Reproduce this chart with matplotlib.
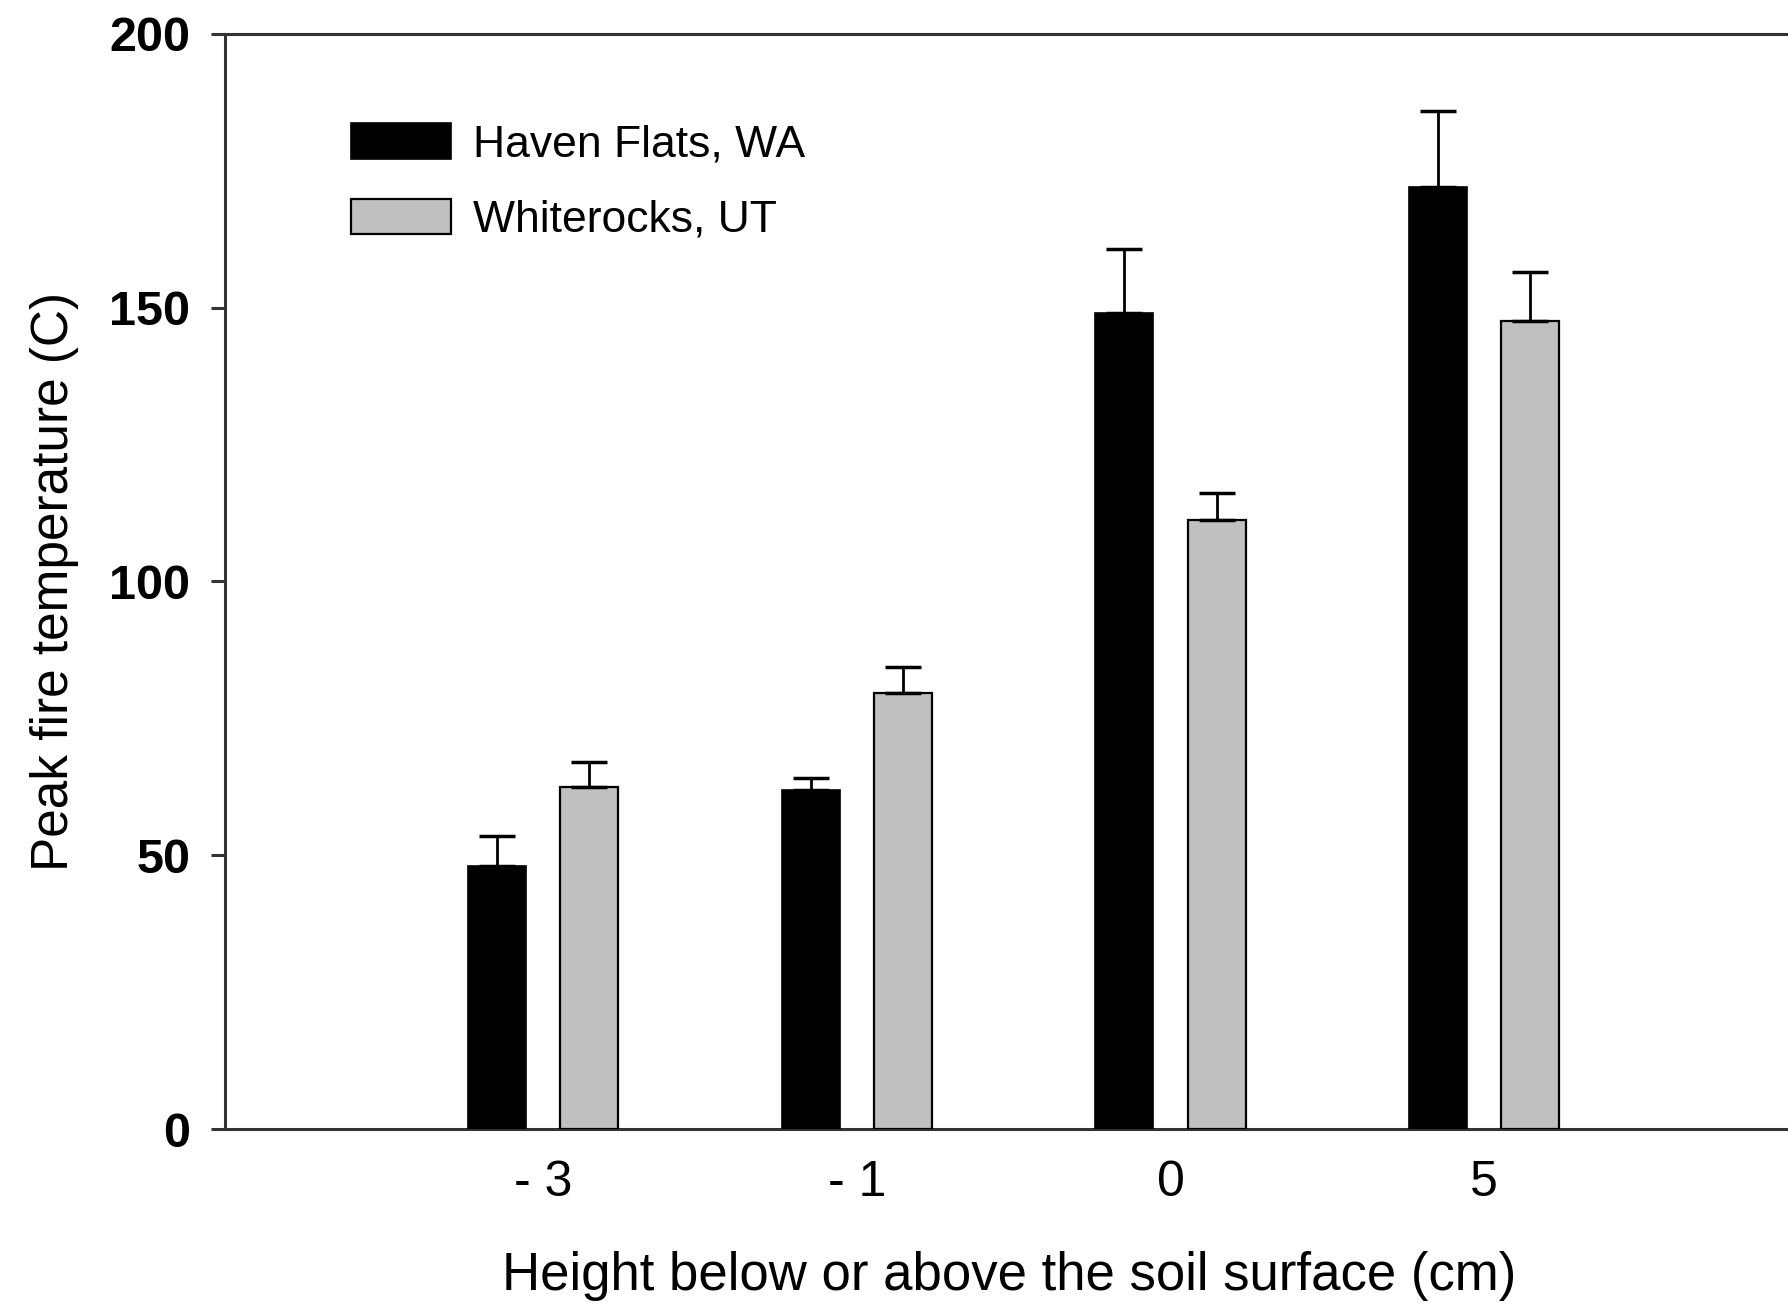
import numpy as np
import matplotlib
matplotlib.use("Agg")
import matplotlib.pyplot as plt

# --- data ---
heights = ["- 3", "- 1", "0", "5"]
haven_mean = [48, 62, 149, 172]
haven_err = [5.6, 2.2, 11.7, 14.0]
white_mean = [62.5, 79.6, 111.3, 147.5]
white_err = [4.6, 4.8, 4.8, 9.0]

plt.rcParams['font.family'] = ['Liberation Sans', 'DejaVu Sans']

fig = plt.figure(figsize=(17.88, 13.06), dpi=100)
ax = fig.add_axes([0.1258, 0.1355, 0.877, 0.8385])

x = np.arange(1, len(heights) + 1)
w = 0.185
off = 0.147

ax.bar(x - off, haven_mean, w, color='black', edgecolor='black', linewidth=1.2,
       yerr=[np.zeros(4), haven_err], capsize=13,
       error_kw=dict(ecolor='black', elinewidth=2, capthick=2.5),
       label='Haven Flats, WA', zorder=3)
ax.bar(x + off, white_mean, w, color='#c0c0c0', edgecolor='black', linewidth=1.6,
       yerr=[np.zeros(4), white_err], capsize=13,
       error_kw=dict(ecolor='black', elinewidth=2, capthick=2.5),
       label='Whiterocks, UT', zorder=3)

ax.set_xlim(-0.015, 4.985)
ax.set_ylim(0, 200)
ax.set_yticks([0, 50, 100, 150, 200])
ax.set_xticks(x)
ax.set_xticklabels(heights)

for s in ax.spines.values():
    s.set_linewidth(2.2)
    s.set_color('#333333')

ax.tick_params(axis='y', direction='out', length=10, width=2.2, color='#333333',
               labelsize=35, pad=15)
ax.tick_params(axis='x', length=0, labelsize=36, pad=22)
for lab in ax.get_yticklabels():
    lab.set_fontweight('bold')

ax.set_xlabel('Height below or above the soil surface (cm)', fontsize=38, labelpad=33)
ax.set_ylabel('Peak fire temperature (C)', fontsize=37, labelpad=22)

ax.legend(loc='upper left', bbox_to_anchor=(0.055, 0.955), frameon=False, fontsize=32,
          handlelength=2.25, handleheight=0.85, labelspacing=0.75, handletextpad=0.5)

fig.savefig('out.png', dpi=100)
